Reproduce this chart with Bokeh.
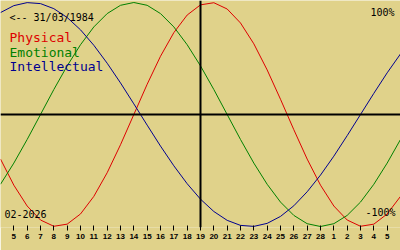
from bokeh.plotting import figure
from bokeh.models import FixedTicker, Span, Label, ColumnDataSource
from bokeh.embed import file_html
from bokeh.resources import INLINE

# ---- data (one value per day, Feb 4 2026 .. Mar 6 2026) ----
dates = ["2026-02-%02d" % d for d in range(4, 29)] + ["2026-03-%02d" % d for d in range(1, 7)]
physical = [-0.398, -0.631, -0.817, -0.942, -0.998, -0.979, -0.888, -0.731, -0.520, -0.270,
            0.000, 0.270, 0.520, 0.731, 0.888, 0.979, 0.998, 0.942, 0.817, 0.631,
            0.398, 0.136, -0.136, -0.398, -0.631, -0.817, -0.942, -0.998, -0.979, -0.888, -0.731]
emotional = [-0.623, -0.434, -0.223, 0.000, 0.223, 0.434, 0.623, 0.782, 0.901, 0.975,
             1.000, 0.975, 0.901, 0.782, 0.623, 0.434, 0.223, 0.000, -0.223, -0.434,
             -0.623, -0.782, -0.901, -0.975, -1.000, -0.975, -0.901, -0.782, -0.623, -0.434, -0.223]
intellectual = [0.910, 0.972, 0.999, 0.990, 0.945, 0.866, 0.756, 0.618, 0.458, 0.282,
                0.095, -0.095, -0.282, -0.458, -0.618, -0.756, -0.866, -0.945, -0.990, -0.999,
                -0.972, -0.910, -0.815, -0.690, -0.541, -0.372, -0.189, 0.000, 0.189, 0.372, 0.541]
series_names = ["Physical", "Emotional", "Intellectual"]
today_index = 15
birth_text = "<-- 31/03/1984"
month_text = "02-2026"
top_text = "100%"
bottom_text = "-100%"

# ---- styling ----
BG = "#e0d28a"
COLORS = ["#dd0000", "#008000", "#000090"]
W, H = 400, 250
FRAME_H = 227
ZERO_PX = 114
PX_PER_UNIT = 112
ymax = ZERO_PX / PX_PER_UNIT
ymin = -(FRAME_H - ZERO_PX) / PX_PER_UNIT
n = len(dates)
xmax = n - 1


def px_x(px):
    return px / W * xmax


def px_y(py):
    return ymax - py / PX_PER_UNIT


idx = list(range(n))
src = ColumnDataSource(dict(x=idx, p=physical, e=emotional, i=intellectual))

p = figure(width=W, height=H, x_range=(0, xmax), y_range=(ymin, ymax),
           output_backend="svg", toolbar_location=None,
           min_border_left=0, min_border_right=0, min_border_top=0, min_border_bottom=H - FRAME_H)
p.background_fill_color = BG
p.border_fill_color = BG
p.outline_line_color = None
p.grid.visible = False
p.yaxis.visible = False

tick_idx = idx[1:-1]
p.xaxis.ticker = FixedTicker(ticks=tick_idx)
p.xaxis.major_label_overrides = {i: str(int(dates[i][8:])) for i in tick_idx}
p.xaxis.axis_line_color = None
p.xaxis.minor_tick_line_color = None
p.xaxis.major_tick_line_color = "black"
p.xaxis.major_tick_in = 2
p.xaxis.major_tick_out = 3
p.xaxis.major_label_standoff = 3
p.xaxis.major_label_text_font = "Liberation Sans"
p.xaxis.major_label_text_font_style = "bold"
p.xaxis.major_label_text_font_size = "8px"
p.xaxis.major_label_text_color = "black"

p.add_layout(Span(location=0, dimension="width", line_color="black", line_width=2))
p.add_layout(Span(location=today_index, dimension="height", line_color="black", line_width=2))

for col, c in zip(["p", "e", "i"], COLORS):
    p.line("x", col, source=src, line_color=c, line_width=1)

MONO = "DejaVu Sans Mono"
DESCENT = 0.1


def add_text(px, baseline_py, text, size_px, color, align="left"):
    bottom_py = baseline_py + DESCENT * size_px
    p.add_layout(Label(x=px_x(px), y=px_y(bottom_py), text=text, text_font=MONO, text_align=align,
                       text_baseline="bottom", text_font_size="%dpx" % size_px, text_color=color))


add_text(9, 21, birth_text, 10, "black")
for k, (name, c) in enumerate(zip(series_names, COLORS)):
    add_text(9, 43 + 14.8 * k, name, 13, c)
add_text(394, 16, top_text, 10, "black", "right")
add_text(395, 216, bottom_text, 10, "black", "right")
add_text(4, 216, month_text, 10, "black")

open("out.html", "w").write(file_html(p, INLINE))
